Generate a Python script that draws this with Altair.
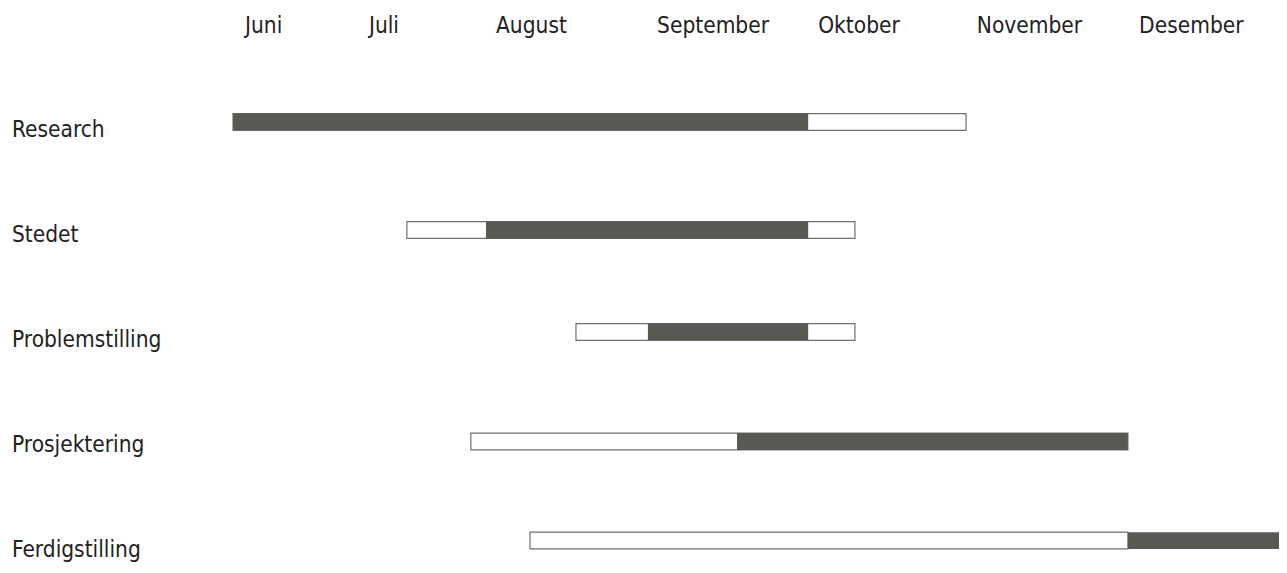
import altair as alt
import pandas as pd

# --- data (x in weeks from the left edge of the timeline, y in row units) ---
tasks = ["Research", "Stedet", "Problemstilling", "Prosjektering", "Ferdigstilling"]
task_row = [0, 1, 2, 3, 4]
bar_row = [-0.067, 0.962, 1.933, 2.976, 3.919]
plan_start = [5.63, 9.98, 14.21, 11.58, 13.06]
plan_end = [23.97, 21.19, 21.19, 28.02, 28.02]
done_start = [5.63, 11.96, 16.01, 18.24, 28.02]
done_end = [20.02, 20.02, 20.02, 28.02, 32.0]

months = ["Juni", "Juli", "August", "September", "Oktober", "November", "Desember"]
month_pos = [5.93, 9.03, 12.21, 16.24, 20.27, 24.24, 28.30]
month_row = -0.91
label_x = 0.1

half = 0.08

bars = pd.DataFrame({
    "task": tasks,
    "row": task_row,
    "y0": [r - half for r in bar_row],
    "y1": [r + half for r in bar_row],
    "ps": plan_start,
    "pe": plan_end,
    "ds": done_start,
    "de": done_end,
    "lx": [label_x] * len(tasks),
})
mdf = pd.DataFrame({"month": months, "x": month_pos, "y": [month_row] * len(months)})

FONT = "Liberation Sans Narrow, DejaVu Sans Condensed, sans-serif"
FS = 22.5
xs = alt.Scale(domain=[0, 31.8], nice=False, zero=False)
ys = alt.Scale(domain=[4.152, -1.152], nice=False, zero=False)

plan = alt.Chart(bars).mark_rect(fill="white", stroke="#6f6f6f", strokeWidth=1.2).encode(
    x=alt.X("ps:Q", scale=xs, axis=None),
    x2="pe:Q",
    y=alt.Y("y0:Q", scale=ys, axis=None),
    y2="y1:Q",
)
done = alt.Chart(bars).mark_rect(fill="#5a5852").encode(
    x=alt.X("ds:Q", scale=xs, axis=None),
    x2="de:Q",
    y=alt.Y("y0:Q", scale=ys, axis=None),
    y2="y1:Q",
)
task_labels = alt.Chart(bars).mark_text(
    align="left", baseline="alphabetic", dy=8, font=FONT, fontSize=FS, color="#222222"
).encode(
    x=alt.X("lx:Q", scale=xs, axis=None),
    y=alt.Y("row:Q", scale=ys, axis=None),
    text="task:N",
)
month_labels = alt.Chart(mdf).mark_text(
    align="left", baseline="alphabetic", font=FONT, fontSize=FS, color="#222222"
).encode(
    x=alt.X("x:Q", scale=xs, axis=None),
    y=alt.Y("y:Q", scale=ys, axis=None),
    text="month:N",
)

chart = alt.layer(plan, done, task_labels, month_labels).properties(
    width=1271, height=557, autosize=alt.AutoSizeParams(type="none"), padding=0
).configure_view(stroke=None)

chart.save("out.html", embed_options={"renderer": "svg", "actions": False})
